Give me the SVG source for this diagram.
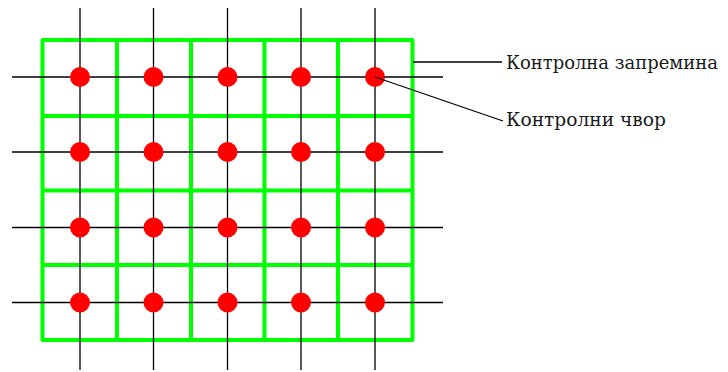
<svg xmlns="http://www.w3.org/2000/svg" width="728" height="372" viewBox="0 0 728 372">
<style>
.cv{fill:none;stroke:#00ff00;stroke-width:4;stroke-linejoin:round}
.gl{stroke:#000;stroke-width:1.3}
.nd{fill:#ff0000}
.ld{stroke:#000;stroke-width:1.3;fill:none}
.lb{font-family:"DejaVu Serif","Liberation Serif",serif;font-size:18px;fill:#1a1a1a}
</style>
<rect width="728" height="372" fill="#fff"/>
<g id="control-volumes">
<rect class="cv" x="42.5" y="40" width="370" height="300"/>
<path class="cv" d="M117 40V340M191 40V340M264.5 40V340M338 40V340M42.5 116H412.5M42.5 190.5H412.5M42.5 265H412.5"/>
</g>
<g id="grid-lines">
<path class="gl" d="M12 77H443M12 152H443M12 227.5H443M12 302.5H443M80 8V370M153.5 8V370M227.5 8V370M301 8V370M375 8V370"/>
</g>
<g id="nodes">
<circle class="nd" cx="80" cy="77" r="10"/><circle class="nd" cx="153.5" cy="77" r="10"/><circle class="nd" cx="227.5" cy="77" r="10"/><circle class="nd" cx="301" cy="77" r="10"/><circle class="nd" cx="375" cy="77" r="10"/>
<circle class="nd" cx="80" cy="152" r="10"/><circle class="nd" cx="153.5" cy="152" r="10"/><circle class="nd" cx="227.5" cy="152" r="10"/><circle class="nd" cx="301" cy="152" r="10"/><circle class="nd" cx="375" cy="152" r="10"/>
<circle class="nd" cx="80" cy="227.5" r="10"/><circle class="nd" cx="153.5" cy="227.5" r="10"/><circle class="nd" cx="227.5" cy="227.5" r="10"/><circle class="nd" cx="301" cy="227.5" r="10"/><circle class="nd" cx="375" cy="227.5" r="10"/>
<circle class="nd" cx="80" cy="302.5" r="10"/><circle class="nd" cx="153.5" cy="302.5" r="10"/><circle class="nd" cx="227.5" cy="302.5" r="10"/><circle class="nd" cx="301" cy="302.5" r="10"/><circle class="nd" cx="375" cy="302.5" r="10"/>
</g>
<g id="connectors">
<path class="ld" d="M413 62H502"/>
<path class="ld" d="M375 77L503 121"/>
</g>
<g id="label-volume">
<text class="lb" x="506" y="69" textLength="212" lengthAdjust="spacingAndGlyphs">Контролна запремина</text>
</g>
<g id="label-node">
<text class="lb" x="506" y="126" textLength="160" lengthAdjust="spacingAndGlyphs">Контролни чвор</text>
</g>
</svg>
